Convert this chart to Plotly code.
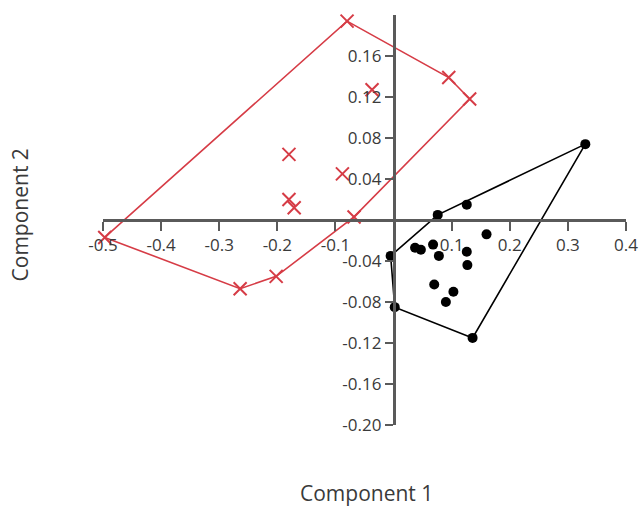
import plotly.graph_objects as go

# group A (red crosses)
red_x = [-0.497, -0.080, -0.037, 0.095, 0.131, -0.180, -0.088, -0.180, -0.171, -0.068, -0.202, -0.264]
red_y = [-0.017, 0.194, 0.127, 0.139, 0.118, 0.064, 0.045, 0.020, 0.012, 0.003, -0.055, -0.067]

# group B (black dots)
blk_x = [0.330, 0.126, 0.076, 0.160, 0.037, 0.047, 0.068, 0.078, 0.126, 0.127, -0.005, 0.070, 0.103, 0.090, 0.002, 0.136]
blk_y = [0.074, 0.015, 0.005, -0.014, -0.027, -0.029, -0.024, -0.035, -0.031, -0.044, -0.035, -0.063, -0.070, -0.080, -0.085, -0.115]

x_ticks = [-0.5, -0.4, -0.3, -0.2, -0.1, 0.1, 0.2, 0.3, 0.4]
y_ticks = [-0.20, -0.16, -0.12, -0.08, -0.04, 0.04, 0.08, 0.12, 0.16]

X_RANGE = [-0.5, 0.4]
Y_RANGE = [-0.2, 0.2]


def hull(xs, ys):
    # monotone chain convex hull, closed
    pts = sorted(set(zip(xs, ys)))

    def cross(o, a, b):
        return (a[0] - o[0]) * (b[1] - o[1]) - (a[1] - o[1]) * (b[0] - o[0])

    lower, upper = [], []
    for p in pts:
        while len(lower) >= 2 and cross(lower[-2], lower[-1], p) <= 0:
            lower.pop()
        lower.append(p)
    for p in reversed(pts):
        while len(upper) >= 2 and cross(upper[-2], upper[-1], p) <= 0:
            upper.pop()
        upper.append(p)
    h = lower[:-1] + upper[:-1]
    h.append(h[0])
    return [p[0] for p in h], [p[1] for p in h]


RED = "rgb(214,60,70)"
fig = go.Figure()

hx, hy = hull(red_x, red_y)
fig.add_trace(go.Scatter(x=hx, y=hy, mode="lines", line=dict(color=RED, width=1.6),
                         hoverinfo="skip", cliponaxis=False))
hx, hy = hull(blk_x, blk_y)
fig.add_trace(go.Scatter(x=hx, y=hy, mode="lines", line=dict(color="black", width=1.6),
                         hoverinfo="skip", cliponaxis=False))

fig.add_trace(go.Scatter(x=red_x, y=red_y, mode="markers", cliponaxis=False,
                         marker=dict(symbol="x-thin", size=13, line=dict(color=RED, width=2))))
fig.add_trace(go.Scatter(x=blk_x, y=blk_y, mode="markers", cliponaxis=False,
                         marker=dict(symbol="circle", size=10, color="black")))

axis_font = dict(family="Open Sans", size=17, color="#3a3a3a")
fig.update_xaxes(range=X_RANGE, tickvals=x_ticks, ticktext=[f"{v:.1f}" for v in x_ticks],
                 anchor="free", position=(0 - Y_RANGE[0]) / (Y_RANGE[1] - Y_RANGE[0]),
                 showline=True, linecolor="#5a5a5a", linewidth=2.5, ticks="outside",
                 ticklen=9, tickwidth=2, tickcolor="#5a5a5a", showgrid=False,
                 zeroline=False, tickfont=axis_font, automargin=False)
fig.update_yaxes(range=Y_RANGE, tickvals=y_ticks, ticktext=[f"{v:.2f}" for v in y_ticks],
                 anchor="free", position=(0 - X_RANGE[0]) / (X_RANGE[1] - X_RANGE[0]),
                 showline=True, linecolor="#5a5a5a", linewidth=2.5, ticks="outside",
                 ticklen=8, tickwidth=2, tickcolor="#5a5a5a", showgrid=False,
                 zeroline=False, tickfont=axis_font, automargin=False)

fig.add_annotation(text="Component 1", x=0.503, y=-0.166, xref="paper", yref="paper",
                   xanchor="center", yanchor="middle", showarrow=False,
                   font=dict(family="Open Sans", size=21, color="#3a3a3a"))
fig.add_annotation(text="Component 2", x=-0.158, y=0.512, xref="paper", yref="paper",
                   xanchor="center", yanchor="middle", showarrow=False, textangle=-90,
                   font=dict(family="Open Sans", size=21, color="#3a3a3a"))

fig.update_layout(width=642, height=510, showlegend=False,
                  plot_bgcolor="white", paper_bgcolor="white",
                  margin=dict(l=103, r=16, t=15, b=85, autoexpand=False))

# drop the default body margin so the figure fills the window
fig.write_html("out.html", config={"displayModeBar": False},
               post_script="document.body.style.margin='0';")
